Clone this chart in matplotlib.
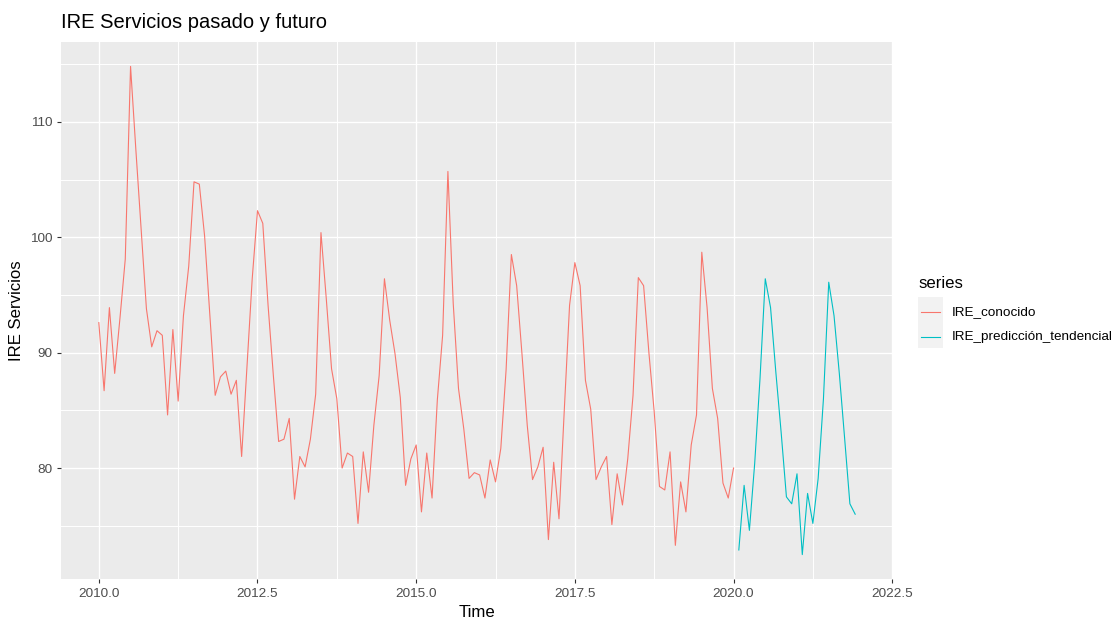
import numpy as np
import matplotlib
matplotlib.use("Agg")
import matplotlib.pyplot as plt
from matplotlib.patches import Rectangle
from matplotlib.lines import Line2D

plt.rcParams['font.family'] = ['Liberation Sans', 'DejaVu Sans']

# monthly series
start_known = 2010.0
ire_conocido = [
    92.6, 86.7, 93.9, 88.2, 93.0, 98.1, 114.8, 107.6, 100.7, 93.8, 90.5, 91.9,
    91.5, 84.6, 92.0, 85.8, 93.2, 97.5, 104.8, 104.6, 100.1, 93.2, 86.3, 87.9,
    88.4, 86.4, 87.6, 81.0, 88.7, 96.4, 102.3, 101.2, 94.1, 88.0, 82.3, 82.5,
    84.3, 77.3, 81.0, 80.1, 82.5, 86.4, 100.4, 94.7, 88.6, 86.0, 80.0, 81.3,
    81.0, 75.2, 81.4, 77.9, 83.7, 88.0, 96.4, 92.8, 89.9, 86.1, 78.5, 80.8,
    82.0, 76.2, 81.3, 77.4, 85.9, 91.5, 105.7, 94.3, 86.9, 83.4, 79.1, 79.6,
    79.4, 77.4, 80.7, 78.8, 81.7, 88.5, 98.5, 95.8, 89.9, 83.7, 79.0, 80.1,
    81.8, 73.8, 80.5, 75.6, 85.0, 94.1, 97.8, 95.8, 87.6, 85.1, 79.0, 80.1,
    81.0, 75.1, 79.5, 76.8, 80.8, 86.3, 96.5, 95.8, 90.0, 84.9, 78.4, 78.1,
    81.4, 73.3, 78.8, 76.2, 82.0, 84.6, 98.7, 93.9, 86.9, 84.3, 78.7, 77.4,
    80.0,
]
start_pred = 2020.0 + 1 / 12
ire_prediccion = [
    72.9, 78.5, 74.6, 80.4, 87.7, 96.4, 93.9, 88.3, 83.1, 77.5, 76.9, 79.5,
    72.5, 77.8, 75.2, 79.1, 86.0, 96.1, 93.2, 88.2, 82.6, 76.9, 76.0,
]
series_names = ['IRE_conocido', 'IRE_predicción_tendencial']
series_colors = ['#F8766D', '#00BFC4']

x_major = [2010.0, 2012.5, 2015.0, 2017.5, 2020.0, 2022.5]
y_major = [80, 90, 100, 110]

t_known = start_known + np.arange(len(ire_conocido)) / 12
t_pred = start_pred + np.arange(len(ire_prediccion)) / 12

W, H = 1117, 619
fig = plt.figure(figsize=(W / 100, H / 100), dpi=100)
fig.patch.set_facecolor('white')

# panel placement in pixels
left, right, top, bottom = 61, 893, 42, 579
ax = fig.add_axes([left / W, 1 - bottom / H, (right - left) / W, (bottom - top) / H])
ax.set_facecolor('#EBEBEB')

ax.plot(t_known, ire_conocido, color=series_colors[0], lw=0.8, zorder=3)
ax.plot(t_pred, ire_prediccion, color=series_colors[1], lw=0.8, zorder=3)

# ggplot style 5% expansion
all_t = np.concatenate([t_known, t_pred])
all_v = np.concatenate([ire_conocido, ire_prediccion])
dx = (all_t.max() - all_t.min()) * 0.05
dy = (all_v.max() - all_v.min()) * 0.05
ax.set_xlim(all_t.min() - dx, all_t.max() + dx)
ax.set_ylim(all_v.min() - dy, all_v.max() + dy)

ax.set_xticks(x_major)
ax.set_xticklabels([f'{v:.1f}' for v in x_major])
ax.set_xticks([(a + b) / 2 for a, b in zip(x_major[:-1], x_major[1:])], minor=True)
ax.set_yticks(y_major)
ax.set_yticks([75, 85, 95, 105, 115], minor=True)

ax.grid(which='major', color='white', lw=1.0, zorder=0)
ax.grid(which='minor', color='white', lw=0.7, zorder=0)
ax.set_axisbelow(True)
for s in ax.spines.values():
    s.set_visible(False)
ax.tick_params(which='major', length=3.2, width=0.8, color='#333333',
               labelcolor='#4D4D4D', labelsize=9.7, pad=3)
ax.tick_params(which='minor', length=0)

ax.set_xlabel('Time', fontsize=12.1, color='black', labelpad=4)
ax.set_ylabel('IRE Servicios', fontsize=12.1, color='black', labelpad=4)

fig.text(left / W, 1 - 22 / H, 'IRE Servicios pasado y futuro', fontsize=14.5,
         ha='left', va='center')

# legend drawn the ggplot way: title, grey key boxes, labels
fig.text(918 / W, 1 - 283 / H, 'series', fontsize=12.1, ha='left', va='center')
fig.patches.append(Rectangle((918 / W, 1 - 348 / H), 25 / W, 51 / H,
                             transform=fig.transFigure, facecolor='#F2F2F2',
                             edgecolor='none'))
for i, (name, col) in enumerate(zip(series_names, series_colors)):
    yy = 1 - (312 + 25 * i) / H
    fig.lines.append(Line2D([921 / W, 940 / W], [yy, yy], transform=fig.transFigure,
                            color=col, lw=0.8))
    fig.text(952 / W, yy, name, fontsize=9.7, ha='left', va='center')

fig.savefig('out.png', dpi=100)
